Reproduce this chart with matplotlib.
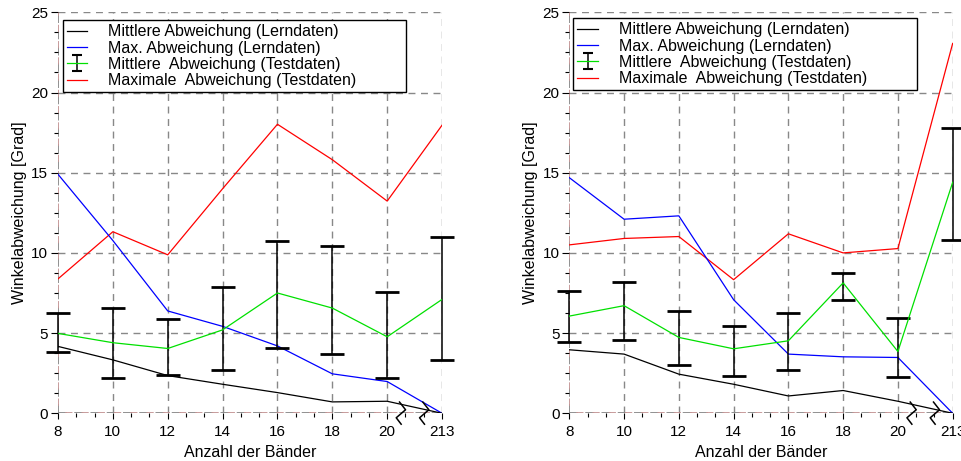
import matplotlib
matplotlib.use('Agg')
import matplotlib.pyplot as plt
from matplotlib.lines import Line2D
import numpy as np

plt.rcParams['font.family'] = ['Liberation Sans', 'DejaVu Sans']

baender = [8, 10, 12, 14, 16, 18, 20, 22]
tick_labels = ['8', '10', '12', '14', '16', '18', '20', '213']

# left experiment
mean_learn_1 = [4.17, 3.33, 2.35, 1.81, 1.29, 0.71, 0.75, 0.0]
max_learn_1 = [14.9, 10.77, 6.38, 5.42, 4.2, 2.46, 1.98, 0.0]
mean_test_1 = [4.98, 4.4, 4.04, 5.2, 7.5, 6.56, 4.77, 7.1]
test_lo_1 = [3.79, 2.17, 2.38, 2.71, 4.06, 3.71, 2.17, 3.33]
test_hi_1 = [6.25, 6.54, 5.88, 7.85, 10.73, 10.44, 7.56, 11.0]
max_test_1 = [8.38, 11.32, 9.88, 14.0, 18.02, 15.81, 13.23, 17.96]

# right experiment
mean_learn_2 = [3.96, 3.69, 2.44, 1.81, 1.08, 1.42, 0.75, 0.0]
max_learn_2 = [14.69, 12.1, 12.31, 7.08, 3.69, 3.52, 3.48, 0.0]
mean_test_2 = [6.06, 6.71, 4.73, 4.02, 4.52, 8.13, 3.85, 14.4]
test_lo_2 = [4.46, 4.54, 2.98, 2.33, 2.69, 7.06, 2.27, 10.83]
test_hi_2 = [7.63, 8.17, 6.4, 5.46, 6.25, 8.73, 5.94, 17.79]
max_test_2 = [10.5, 10.9, 11.02, 8.33, 11.19, 10.0, 10.27, 23.06]

labels = ['Mittlere Abweichung (Lerndaten)',
          'Max. Abweichung (Lerndaten)',
          'Mittlere  Abweichung (Testdaten)',
          'Maximale  Abweichung (Testdaten)']


def zigzag(ax, x0):
    # axis break symbol below the x axis
    dx = np.array([0.0, 0.22, -0.12, 0.06])
    dy = np.array([0.7, 0.22, -0.28, -0.68])
    ax.plot(x0 + dx, dy, color='black', lw=1.1, clip_on=False, zorder=6)


def draw_panel(ax, mean_learn, max_learn, mean_test, lo, hi, max_test, legend_box):
    x = np.array(baender)
    mt = np.array(mean_test)
    yerr = [mt - np.array(lo), np.array(hi) - mt]

    for v in [10, 12, 14, 16, 18, 20, 22]:
        ax.axvline(v, color='#888888', lw=1.0, ls=(0, (5, 4)), zorder=1)
    for v in [5, 10, 15, 20, 25]:
        ax.axhline(v, color='#888888', lw=1.0, ls=(0, (5, 4)), zorder=1)
    ax.axvline(8, color='#888888', lw=1.3, ls=(0, (5, 4)), zorder=1)
    ax.axvline(8, color='#c49494', lw=1.3, ls=(5, (4, 5)), zorder=1)
    ax.axhline(0, color='#888888', lw=1.3, ls=(0, (5, 4)), zorder=1)
    ax.axhline(0, color='#c49494', lw=1.3, ls=(5, (4, 5)), zorder=1)

    h_red, = ax.plot(x, max_test, color='#ff0000', lw=0.9, zorder=3)
    h_blue, = ax.plot(x, max_learn, color='#0000ff', lw=0.9, zorder=3)
    h_black, = ax.plot(x, mean_learn, color='black', lw=0.9, zorder=3)
    h_err = ax.errorbar(x, mt, yerr=yerr, color='#00e000', lw=0.9,
                        ecolor='black', elinewidth=1.1, capsize=8.5,
                        capthick=2.0, zorder=4)
    for art in h_err.lines[1] + h_err.lines[2]:
        art.set_clip_on(False)

    zigzag(ax, 20.45)
    zigzag(ax, 21.3)

    ax.set_xlim(8, 22)
    ax.set_ylim(0, 25)
    ax.set_xticks(baender)
    ax.set_xticklabels(tick_labels)
    ax.set_xticks(np.arange(8, 22.01, 2 / 3), minor=True)
    ax.set_yticks([0, 5, 10, 15, 20, 25])
    ax.set_yticks(np.arange(0, 25.01, 1.25), minor=True)
    ax.tick_params(which='major', length=5, width=0.8, labelsize=11, pad=2)
    ax.tick_params(which='minor', length=3, width=0.8)
    ax.tick_params(axis='x', which='major', length=4, pad=4.5)
    for s in ax.spines.values():
        s.set_visible(False)

    ax.set_xlabel('Anzahl der Bänder', fontsize=11.5, labelpad=4)
    ax.set_ylabel('Winkelabweichung [Grad]', fontsize=11.5, labelpad=3)

    leg = ax.legend([h_black, h_blue, h_err, h_red], labels,
                    loc='upper left', bbox_to_anchor=legend_box, mode='expand',
                    borderaxespad=0, fontsize=11.5, handlelength=1.3,
                    handletextpad=1.3, labelspacing=0.08, borderpad=0.25,
                    fancybox=False, framealpha=1, edgecolor='black')
    leg.get_frame().set_linewidth(1.0)
    leg.set_zorder(10)
    # smaller caps on the legend's error bar symbol
    for art in leg.findobj(Line2D):
        if art.get_marker() == '_':
            art.set_markersize(7)
            art.set_markeredgewidth(1.5)


fig = plt.figure(figsize=(9.62, 4.61), dpi=100)
ax1 = fig.add_axes([0.0603, 0.1035, 0.3992, 0.8698])
ax2 = fig.add_axes([0.5918, 0.1035, 0.3985, 0.8698])

draw_panel(ax1, mean_learn_1, max_learn_1, mean_test_1, test_lo_1, test_hi_1,
           max_test_1, (0.012, 0.0, 0.894, 0.98))
draw_panel(ax2, mean_learn_2, max_learn_2, mean_test_2, test_lo_2, test_hi_2,
           max_test_2, (0.0104, 0.0, 0.896, 0.985))

fig.savefig('out.png', dpi=100)
